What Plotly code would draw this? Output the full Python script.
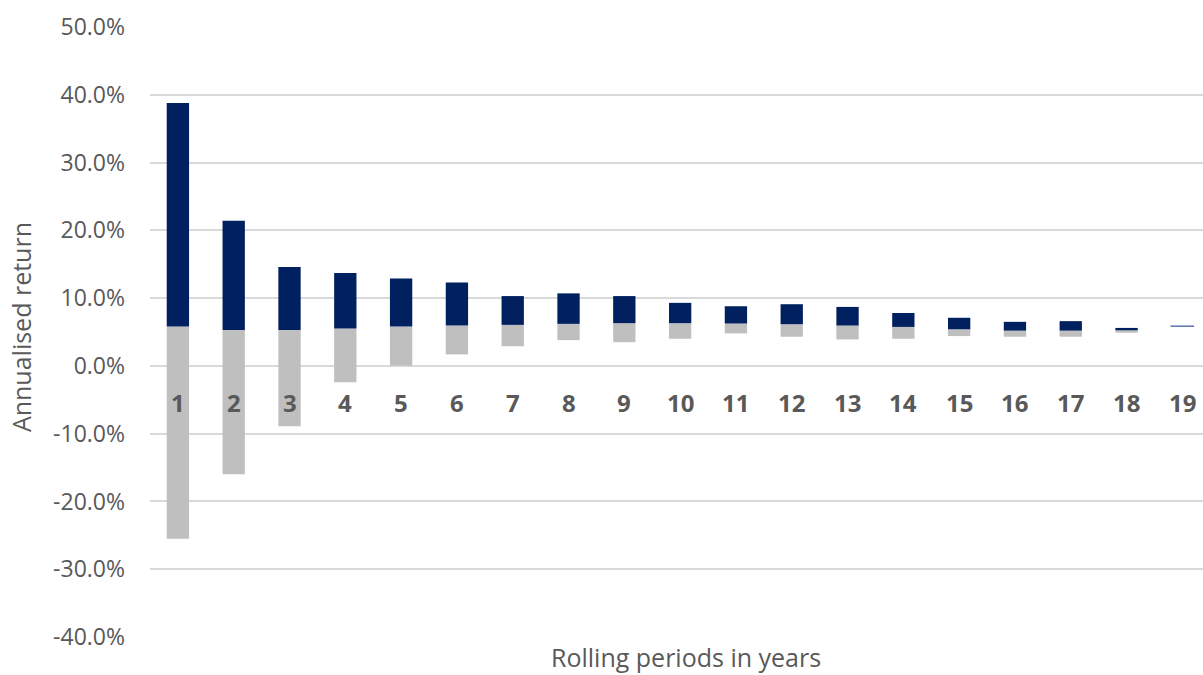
import plotly.graph_objects as go

periods = list(range(1, 20))
max_ret = [0.388, 0.214, 0.146, 0.137, 0.129, 0.123, 0.103, 0.107, 0.103, 0.093,
           0.088, 0.091, 0.087, 0.078, 0.071, 0.065, 0.066, 0.056, 0.0587]
median_ret = [0.058, 0.053, 0.053, 0.055, 0.058, 0.0595, 0.0605, 0.062, 0.063, 0.063,
              0.0625, 0.0615, 0.0595, 0.0575, 0.054, 0.052, 0.052, 0.0525, 0.0585]
min_ret = [-0.255, -0.160, -0.089, -0.024, 0.0005, 0.017, 0.029, 0.038, 0.035, 0.040,
           0.048, 0.043, 0.039, 0.040, 0.044, 0.043, 0.043, 0.049, 0.0585]
tick_vals = [-0.4, -0.3, -0.2, -0.1, 0.0, 0.1, 0.2, 0.3, 0.4, 0.5]
tick_text = [f"{v * 100:.1f}%" for v in tick_vals]

NAVY = "#002060"
GREY = "#BFBFBF"
TEXT = "#595959"
GRID = "#D9D9D9"
FONT = "Open Sans"

low_h = [m - lo for m, lo in zip(median_ret, min_ret)]
high_h = [hi - m for hi, m in zip(max_ret, median_ret)]
line_w = [0] * (len(periods) - 1) + [1.2]

fig = go.Figure()
fig.add_trace(go.Bar(
    x=periods, y=low_h, base=min_ret, width=0.4,
    marker=dict(color=GREY, line=dict(width=0)),
    showlegend=False, hoverinfo="skip",
))
fig.add_trace(go.Bar(
    x=periods, y=high_h, base=median_ret, width=0.4,
    marker=dict(color=NAVY, line=dict(width=line_w, color="#4A68A8")),
    showlegend=False, hoverinfo="skip",
))

annotations = []
for p in periods:
    annotations.append(dict(
        x=p, y=0, xref="x", yref="y", yshift=-37, yanchor="middle",
        text=f"<b>{p}</b>", showarrow=False,
        font=dict(family=FONT, size=24, color=TEXT),
    ))
annotations.append(dict(
    x=0.509, y=0, xref="paper", yref="paper", yshift=-20, yanchor="middle",
    text="Rolling periods in years", showarrow=False,
    font=dict(family=FONT, size=25, color=TEXT),
))
annotations.append(dict(
    x=0, y=0.508, xref="paper", yref="paper", xshift=-129, xanchor="center",
    yanchor="middle", textangle=-90,
    text="Annualised return", showarrow=False,
    font=dict(family=FONT, size=25, color=TEXT),
))

fig.update_layout(
    width=1203, height=675,
    margin=dict(l=150, r=0, t=27, b=38),
    paper_bgcolor="white", plot_bgcolor="white",
    barmode="overlay",
    font=dict(family=FONT, color=TEXT),
    xaxis=dict(range=[0.5, 19.37], showticklabels=False, showgrid=False,
               zeroline=False, showline=False, fixedrange=True),
    yaxis=dict(range=[-0.4, 0.5], tickvals=tick_vals, ticktext=tick_text,
               showgrid=True, gridcolor=GRID, gridwidth=1.5, zeroline=False,
               showline=False, ticks="", ticklabelstandoff=24,
               tickfont=dict(family=FONT, size=23, color=TEXT)),
    annotations=annotations,
)

fig.write_html(
    "out.html",
    config={"displayModeBar": False},
    post_script="document.body.style.margin='0px';document.body.style.overflow='hidden';",
)
